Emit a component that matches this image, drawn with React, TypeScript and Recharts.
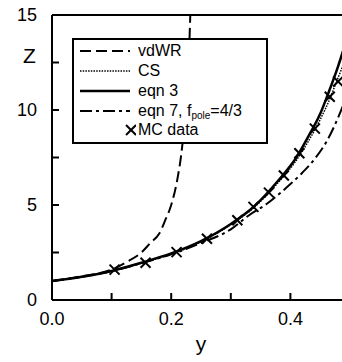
import { ComposedChart, Line, Scatter, XAxis, YAxis, Legend, ReferenceLine, Label } from 'recharts'

// packing fraction y  vs  compressibility factor Z
const vdwrY = [0, 0.05, 0.1, 0.125, 0.15, 0.165, 0.18, 0.19, 0.2, 0.21, 0.217, 0.222, 0.226, 0.229, 0.231, 0.2325]
const vdwrZ = [1.0, 1.25, 1.6, 2.0, 2.5, 3.0, 3.5, 4.2, 5.0, 6.3, 7.7, 9.2, 10.8, 12.5, 14.0, 15.5]

const csY = [0, 0.05, 0.1, 0.15, 0.2, 0.25, 0.3, 0.34, 0.38, 0.41, 0.43, 0.45, 0.465, 0.48, 0.5]
const csZ = [1.0, 1.22, 1.52, 1.94, 2.42, 3.06, 3.97, 4.9, 6.2, 7.35, 8.35, 9.5, 10.5, 11.7, 13.2]

const eq3Y = [0, 0.05, 0.1, 0.15, 0.2, 0.25, 0.3, 0.34, 0.38, 0.41, 0.43, 0.45, 0.465, 0.48, 0.5]
const eq3Z = [1.0, 1.22, 1.53, 1.96, 2.45, 3.1, 4.0, 4.95, 6.3, 7.5, 8.6, 9.8, 11.0, 12.3, 14.3]

const eq7Y = [0, 0.05, 0.1, 0.15, 0.2, 0.25, 0.3, 0.33, 0.36, 0.38, 0.4, 0.42, 0.44, 0.46, 0.48, 0.5]
const eq7Z = [1.0, 1.22, 1.52, 1.94, 2.4, 3.0, 3.72, 4.45, 5.05, 5.55, 6.1, 6.7, 7.4, 8.3, 9.6, 11.2]

const mcY = [0.105, 0.157, 0.209, 0.26, 0.311, 0.338, 0.364, 0.389, 0.415, 0.441, 0.466, 0.48]
const mcZ = [1.6, 1.96, 2.52, 3.22, 4.2, 4.9, 5.65, 6.55, 7.72, 9.02, 10.7, 11.5]

const xTicks = [0, 0.1, 0.2, 0.3, 0.4, 0.5]
const xLabels = ['0.0', '', '0.2', '', '0.4', '']
const yTicks = [0, 2.5, 5, 7.5, 10, 12.5, 15]
const yLabels = ['0', '', '5', '', '10', '', '15']

const font = '"Liberation Sans", Arial, Helvetica, sans-serif'

const pts = (ys: number[], zs: number[]) => ys.map((y, i) => ({ y, z: zs[i] }))

const vdwr = pts(vdwrY, vdwrZ)
const cs = pts(csY, csZ)
const eq3 = pts(eq3Y, eq3Z)
const eq7 = pts(eq7Y, eq7Z)
const mc = pts(mcY, mcZ)

function XMark(props: any) {
  const { cx, cy } = props
  if (cx == null || cy == null) return null
  const s = 5
  return (
    <g stroke="#000" strokeWidth={2}>
      <line x1={cx - s} y1={cy - s} x2={cx + s} y2={cy + s} />
      <line x1={cx - s} y1={cy + s} x2={cx + s} y2={cy - s} />
    </g>
  )
}

const legendRows = [
  { key: 'vdwr', dash: '11 5', width: 2 },
  { key: 'cs', dash: '1.5 1.2', width: 1.5 },
  { key: 'eq3', dash: undefined, width: 2.5 },
  { key: 'eq7', dash: '12 4 3 4', width: 2 },
  { key: 'mc', dash: undefined, width: 0 },
]
const legendTops = [13, 33, 53, 73, 92]

function LegendBox() {
  return (
    <div
      style={{
        width: 196, height: 106, boxSizing: 'border-box', border: '2px solid #000',
        background: '#fff', position: 'relative', fontFamily: font, fontSize: 16, color: '#000',
      }}
    >
      {legendRows.map((r, i) => (
        <div
          key={r.key}
          style={{
            position: 'absolute', left: 0, top: legendTops[i] - 2 - 10, height: 20, width: 192,
            display: 'flex', alignItems: 'center', whiteSpace: 'nowrap',
          }}
        >
          {r.key === 'mc' ? (
            <>
              <svg width={62} height={20}>
                <g stroke="#000" strokeWidth={2}>
                  <line x1={52} y1={5} x2={62} y2={15} />
                  <line x1={52} y1={15} x2={62} y2={5} />
                </g>
              </svg>
              <span style={{ marginLeft: 2 }}>MC data</span>
            </>
          ) : (
            <>
              <svg width={60} height={20}>
                <line x1={6} y1={10} x2={56} y2={10} stroke="#000" strokeWidth={r.width} strokeDasharray={r.dash} />
              </svg>
              <span style={{ marginLeft: 4 }}>
                {r.key === 'vdwr' && 'vdWR'}
                {r.key === 'cs' && 'CS'}
                {r.key === 'eq3' && 'eqn 3'}
                {r.key === 'eq7' && (
                  <>
                    eqn 7, f<sub style={{ fontSize: 10, verticalAlign: -3 }}>pole</sub>=4/3
                  </>
                )}
              </span>
            </>
          )}
        </div>
      ))}
    </div>
  )
}

export default function App() {
  return (
    <div style={{ position: 'fixed', left: 0, top: 0, width: 342, height: 362, overflow: 'hidden', background: '#fff' }}>
      <ComposedChart width={360} height={362} margin={{ top: 15, right: 10, bottom: 22, left: 0 }}>
        <XAxis
          dataKey="y"
          type="number"
          domain={[0, 0.5]}
          ticks={xTicks}
          tickFormatter={(v: number) => xLabels[xTicks.indexOf(v)] ?? ''}
          height={40}
          tickSize={-7}
          tickMargin={19}
          axisLine={{ stroke: '#000', strokeWidth: 2 }}
          tickLine={{ stroke: '#000', strokeWidth: 2 }}
          tick={{ fill: '#000', fontSize: 18, fontFamily: font }}
          interval={0}
        >
          <Label
            content={() => (
              <text x={201} y={351} textAnchor="middle" fontSize={21} fontFamily={font} fill="#000">y</text>
            )}
          />
        </XAxis>
        <YAxis
          type="number"
          domain={[0, 15]}
          allowDataOverflow
          ticks={yTicks}
          tickFormatter={(v: number) => yLabels[yTicks.indexOf(v)] ?? ''}
          width={52}
          tickSize={-7}
          tickMargin={22}
          axisLine={{ stroke: '#000', strokeWidth: 2 }}
          tickLine={{ stroke: '#000', strokeWidth: 2 }}
          tick={{ fill: '#000', fontSize: 18, fontFamily: font }}
          interval={0}
        >
          <Label
            content={() => (
              <text x={29.5} y={63} textAnchor="middle" fontSize={21} fontFamily={font} fill="#000">Z</text>
            )}
          />
        </YAxis>
        <ReferenceLine y={15} stroke="#000" strokeWidth={2} />
        <Line data={vdwr} dataKey="z" type="monotone" stroke="#000" strokeWidth={2} strokeDasharray="11 5" dot={false} isAnimationActive={false} />
        <Line data={cs} dataKey="z" type="monotone" stroke="#000" strokeWidth={1.5} strokeDasharray="1.5 1.2" dot={false} isAnimationActive={false} />
        <Line data={eq7} dataKey="z" type="monotone" stroke="#000" strokeWidth={2} strokeDasharray="12 4 3 4" dot={false} isAnimationActive={false} />
        <Line data={eq3} dataKey="z" type="monotone" stroke="#000" strokeWidth={2.5} dot={false} isAnimationActive={false} />
        <Scatter data={mc} dataKey="z" shape={XMark} isAnimationActive={false} />
        <Legend
          layout="vertical"
          align="center"
          verticalAlign="middle"
          wrapperStyle={{ left: 72, top: 38, width: 196, height: 106 }}
          content={() => <LegendBox />}
        />
      </ComposedChart>
    </div>
  )
}
